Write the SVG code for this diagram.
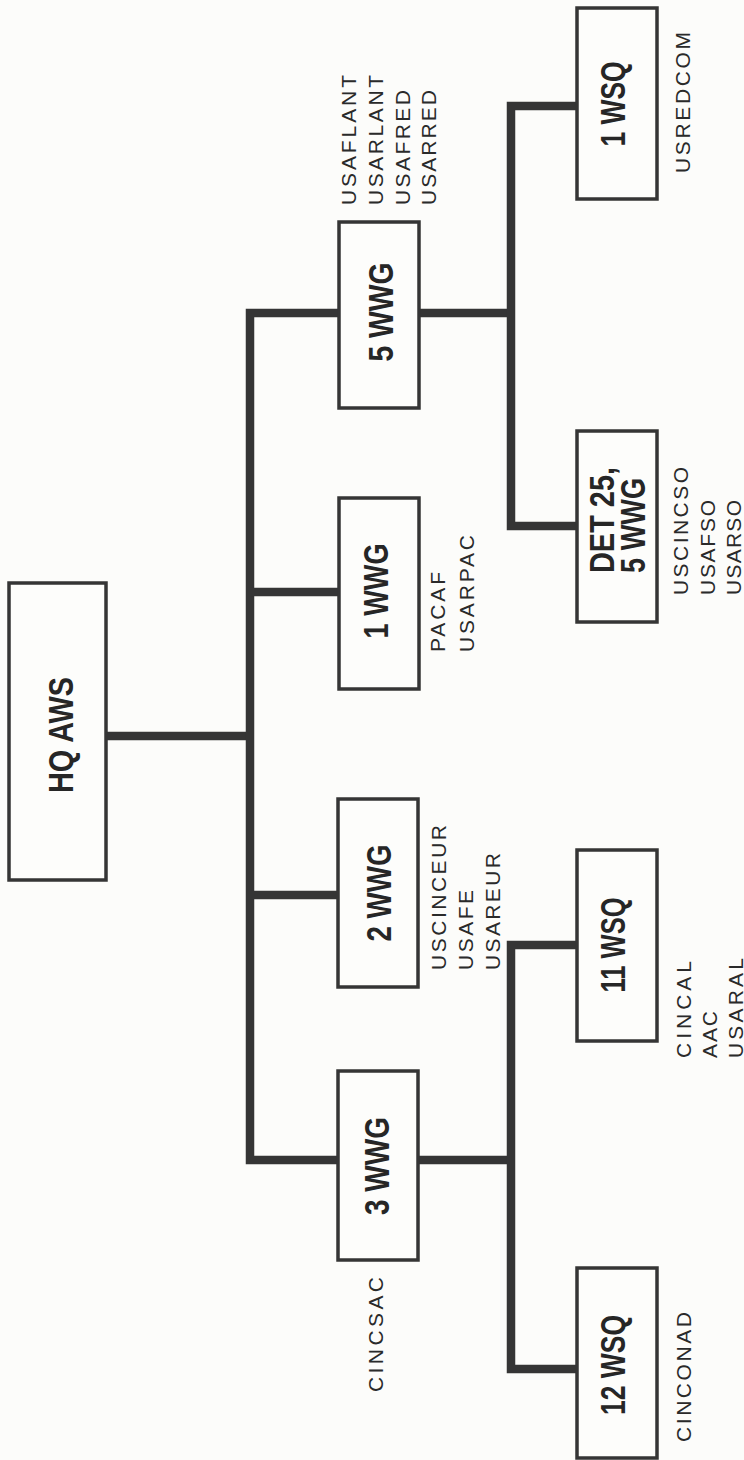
<svg xmlns="http://www.w3.org/2000/svg" width="744" height="1460" viewBox="0 0 744 1460">
<style>
.bg{fill:#fcfcfa}
.box{fill:#fdfdfb;stroke:#353535;stroke-width:3.5}
.wire{fill:none;stroke:#353535;stroke-width:8.5;stroke-linejoin:miter;stroke-linecap:butt}
.t{font-family:"Liberation Sans",Arial,sans-serif;font-weight:bold;font-size:35px;fill:#262626;text-anchor:middle}
.ts{font-family:"Liberation Sans",Arial,sans-serif;font-weight:bold;font-size:35px;fill:#262626;text-anchor:start}
.l{font-family:"Liberation Sans",Arial,sans-serif;font-size:21px;fill:#2a2a2a;text-anchor:start}
</style>
<rect class="bg" x="0" y="0" width="744" height="1460"/>
<g id="connectors">
<path class="wire" d="M106,736 H250"/>
<path class="wire" d="M339,313 H250 V1160 H339"/>
<path class="wire" d="M250,592 H339"/>
<path class="wire" d="M250,895 H339"/>
<path class="wire" d="M419,313 H511"/>
<path class="wire" d="M577,106 H511 V526 H577"/>
<path class="wire" d="M418,1160 H511"/>
<path class="wire" d="M577,945 H511 V1369 H577"/>
</g>
<g id="hq-aws">
<rect class="box" x="9" y="583" width="97" height="297"/>
<text class="t" transform="translate(60,735) rotate(-90)" y="12.5" textLength="116" lengthAdjust="spacingAndGlyphs">HQ AWS</text>
</g>
<g id="wwg5">
<rect class="box" x="339" y="222" width="80" height="186"/>
<text class="t" transform="translate(380,312) rotate(-90)" y="12.5" textLength="99" lengthAdjust="spacingAndGlyphs">5 WWG</text>
<text class="l" transform="translate(348,205) rotate(-90)" y="7.5" textLength="130" lengthAdjust="spacing">USAFLANT</text>
<text class="l" transform="translate(375,205) rotate(-90)" y="7.5" textLength="130" lengthAdjust="spacing">USARLANT</text>
<text class="l" transform="translate(402,205) rotate(-90)" y="7.5" textLength="115" lengthAdjust="spacing">USAFRED</text>
<text class="l" transform="translate(428,205) rotate(-90)" y="7.5" textLength="115" lengthAdjust="spacing">USARRED</text>
</g>
<g id="wwg1">
<rect class="box" x="339" y="498" width="80" height="191"/>
<text class="t" transform="translate(375,591) rotate(-90)" y="12.5" textLength="95" lengthAdjust="spacingAndGlyphs">1 WWG</text>
<text class="l" transform="translate(437,652) rotate(-90)" y="7.5" textLength="80" lengthAdjust="spacing">PACAF</text>
<text class="l" transform="translate(466,652) rotate(-90)" y="7.5" textLength="117" lengthAdjust="spacing">USARPAC</text>
</g>
<g id="wwg2">
<rect class="box" x="338" y="799" width="80" height="188"/>
<text class="t" transform="translate(378,893) rotate(-90)" y="12.5" textLength="97" lengthAdjust="spacingAndGlyphs">2 WWG</text>
<text class="l" transform="translate(438,970) rotate(-90)" y="7.5" textLength="145" lengthAdjust="spacing">USCINCEUR</text>
<text class="l" transform="translate(465,970) rotate(-90)" y="7.5" textLength="80" lengthAdjust="spacing">USAFE</text>
<text class="l" transform="translate(492,970) rotate(-90)" y="7.5" textLength="117" lengthAdjust="spacing">USAREUR</text>
</g>
<g id="wwg3">
<rect class="box" x="338" y="1071" width="80" height="189"/>
<text class="t" transform="translate(376,1166) rotate(-90)" y="12.5" textLength="98" lengthAdjust="spacingAndGlyphs">3 WWG</text>
<text class="l" transform="translate(375,1392) rotate(-90)" y="7.5" textLength="115" lengthAdjust="spacing">CINCSAC</text>
</g>
<g id="wsq1">
<rect class="box" x="577" y="8" width="80" height="191"/>
<text class="t" transform="translate(612,104) rotate(-90)" y="12.5" textLength="85" lengthAdjust="spacingAndGlyphs">1 WSQ</text>
<text class="l" transform="translate(682,173) rotate(-90)" y="7.5" textLength="141" lengthAdjust="spacing">USREDCOM</text>
</g>
<g id="det25">
<rect class="box" x="577" y="431" width="80" height="191"/>
<text class="ts" transform="translate(601,573) rotate(-90)" y="12.5" textLength="106" lengthAdjust="spacingAndGlyphs">DET 25,</text>
<text class="ts" transform="translate(632,573) rotate(-90)" y="12.5" textLength="95" lengthAdjust="spacingAndGlyphs">5 WWG</text>
<text class="l" transform="translate(680,595) rotate(-90)" y="7.5" textLength="128" lengthAdjust="spacing">USCINCSO</text>
<text class="l" transform="translate(707,595) rotate(-90)" y="7.5" textLength="95" lengthAdjust="spacing">USAFSO</text>
<text class="l" transform="translate(733,595) rotate(-90)" y="7.5" textLength="95" lengthAdjust="spacing">USARSO</text>
</g>
<g id="wsq11">
<rect class="box" x="577" y="850" width="80" height="191"/>
<text class="t" transform="translate(612,945) rotate(-90)" y="12.5" textLength="95" lengthAdjust="spacingAndGlyphs">11 WSQ</text>
<text class="l" transform="translate(683,1058) rotate(-90)" y="7.5" textLength="97" lengthAdjust="spacing">CINCAL</text>
<text class="l" transform="translate(709,1058) rotate(-90)" y="7.5" textLength="47" lengthAdjust="spacing">AAC</text>
<text class="l" transform="translate(735,1058) rotate(-90)" y="7.5" textLength="100" lengthAdjust="spacing">USARAL</text>
</g>
<g id="wsq12">
<rect class="box" x="577" y="1268" width="80" height="190"/>
<text class="t" transform="translate(612,1365) rotate(-90)" y="12.5" textLength="100" lengthAdjust="spacingAndGlyphs">12 WSQ</text>
<text class="l" transform="translate(683,1442) rotate(-90)" y="7.5" textLength="130" lengthAdjust="spacing">CINCONAD</text>
</g>
</svg>
